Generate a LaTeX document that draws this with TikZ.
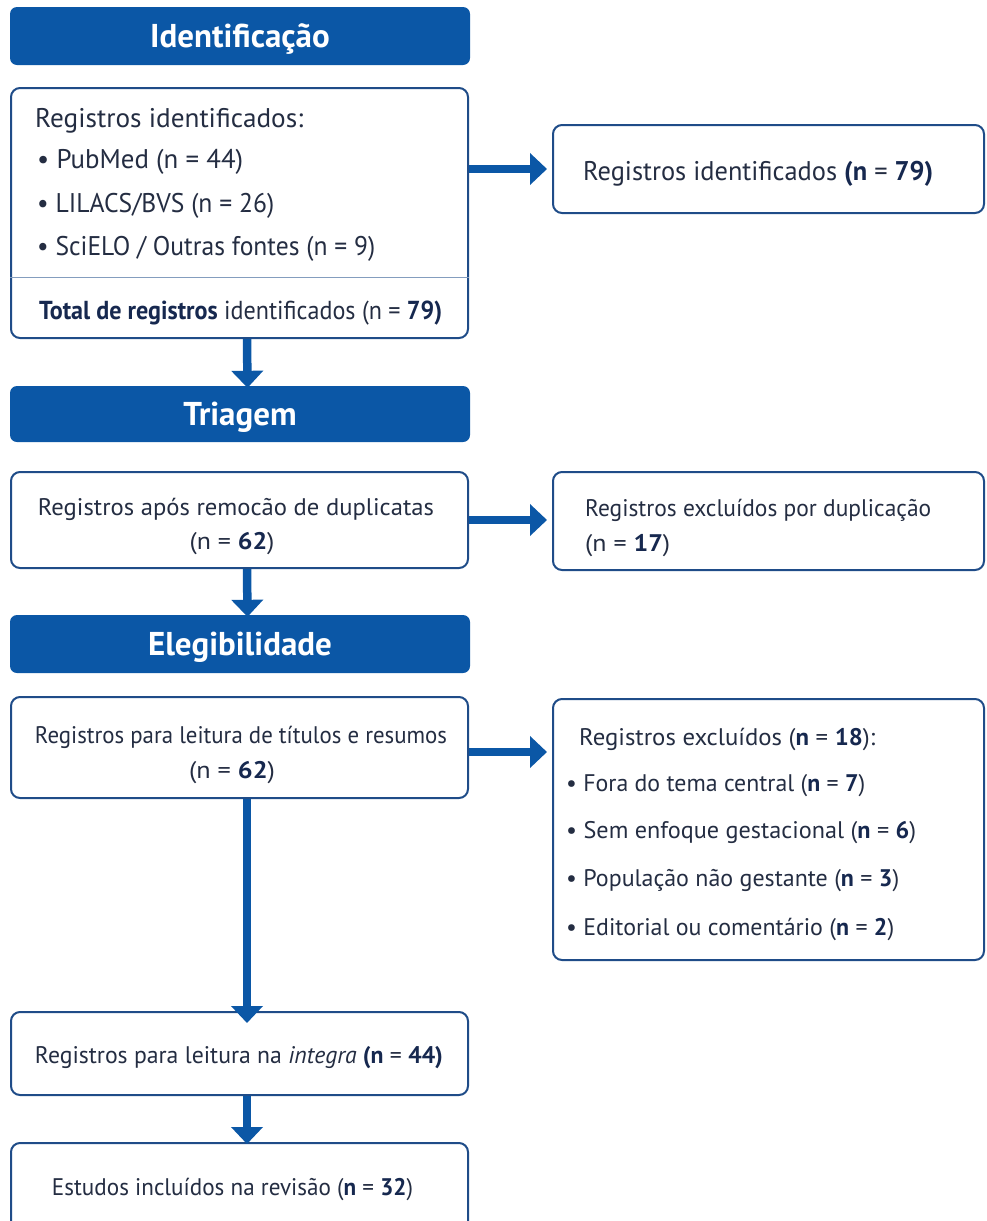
\documentclass[tikz,border=0pt]{standalone}
\usepackage{fontspec}
\setmainfont{PT Sans}
\usetikzlibrary{arrows.meta}
\definecolor{hblue}{HTML}{0B57A6}
\definecolor{bord}{HTML}{1F4C88}
\definecolor{txt}{HTML}{242D42}
\definecolor{btxt}{HTML}{16284F}
\newcommand{\fw}[2]{\resizebox{#1pt}{\height}{#2}}
\newcommand{\bn}[1]{{\bfseries\color{btxt}#1}}
\tikzset{
  hdr/.style={fill=hblue, rounded corners=7pt, minimum width=460pt, text=white,
    font=\fontsize{33}{35}\selectfont\bfseries, text height=23pt, text depth=1pt, inner sep=0pt},
  box/.style={draw=bord, line width=2pt, rounded corners=9pt, fill=white, inner sep=0pt},
  lbl/.style={inner sep=0pt, text=txt, font=\fontsize{24}{27}\selectfont},
  lblb/.style={inner sep=0pt, text=txt, font=\fontsize{27}{30}\selectfont},
  arr/.style={draw=hblue, line width=8.5pt, -{Triangle[width=31pt,length=17pt]}},
}
\begin{document}
\begin{tikzpicture}[x=1pt,y=-1pt]
\useasboundingbox (0,0) rectangle (987,1221);
\clip (0,0) rectangle (987,1221);
% headers
\node[hdr, minimum height=58pt] (h1) at (240,36) {Identificação};
\node[hdr, minimum height=56pt] (h2) at (240,414) {Triagem};
\node[hdr, minimum height=58pt] (h3) at (240,644) {Elegibilidade};
% left boxes
\node[box, minimum width=457pt, minimum height=250pt] (b1) at (239.5,213) {};
\draw[draw=bord!55, line width=1pt] (b1.west |- 0,277) -- (b1.east |- 0,277);
\node[box, minimum width=457pt, minimum height=96pt] (b2) at (239.5,520) {};
\node[box, minimum width=457pt, minimum height=101pt] (b3) at (239.5,747.5) {};
\node[box, minimum width=457pt, minimum height=83pt] (b4) at (239.5,1053.5) {};
\node[box, minimum width=457pt, minimum height=92pt] (b5) at (239.5,1189) {};
% right boxes
\node[box, minimum width=431pt, minimum height=88pt] (r1) at (768.5,169) {};
\node[box, minimum width=431pt, minimum height=98pt] (r2) at (768.5,521) {};
\node[box, minimum width=431pt, minimum height=261pt] (r3) at (768.5,829.5) {};
% box 1 text
\node[lblb, anchor=base west] (t1a) at (35,127) {\fw{268}{Registros identificados:}};
\node[lblb, anchor=base west] (t1b) at (37,168) {\fw{206}{• PubMed (n = 44)}};
\node[lblb, anchor=base west] (t1c) at (37,212) {\fw{237}{• LILACS/BVS (n = 26)}};
\node[lblb, anchor=base west] (t1d) at (37,255) {\fw{338}{• SciELO / Outras fontes (n = 9)}};
\node[lbl, anchor=base west] (t1e) at (39,319) {\fw{403}{\fontsize{26}{28}\selectfont\bn{Total de registros} identificados (n = \bn{79)}}};
% right box 1 text
\node[lblb, anchor=base west] (s1) at (583,180) {\fw{350}{Registros identificados \bn{(n} = \bn{79)}}};
% box 2 text
\node[lbl, anchor=base] (t2a) at (236,515) {\fw{396}{Registros após remocão de duplicatas}};
\node[lbl, anchor=base] (t2b) at (232,549) {\fw{85}{(n = \bn{62})}};
% right box 2 text
\node[lbl, anchor=base west] (s2a) at (585,516) {\fw{346}{Registros excluídos por duplicação}};
\node[lbl, anchor=base west] (s2b) at (585,551) {\fw{85}{(n = \bn{17})}};
% box 3 text
\node[lbl, anchor=base] (t3a) at (241,743) {\fw{412}{Registros para leitura de títulos e resumos}};
\node[lbl, anchor=base] (t3b) at (232,778) {\fw{86}{(n = \bn{62})}};
% right box 3 text
\node[lbl, anchor=base west] (s3a) at (579,745) {\fw{296}{Registros excluídos (\bn{n} = \bn{18}):}};
\node[lbl, anchor=base west] (s3b) at (566,791) {\fw{299}{• Fora do tema central (\bn{n} = \bn{7})}};
\node[lbl, anchor=base west] (s3c) at (566,838) {\fw{350}{• Sem enfoque gestacional (\bn{n} = \bn{6})}};
\node[lbl, anchor=base west] (s3d) at (566,886) {\fw{333}{• População não gestante (\bn{n} = \bn{3})}};
\node[lbl, anchor=base west] (s3e) at (566,935) {\fw{328}{• Editorial ou comentário (\bn{n} = \bn{2})}};
% box 4 and 5 text
\node[lbl, anchor=base] (t4) at (239,1063) {\fw{408}{Registros para leitura na \textit{integra} \bn{(n} = \bn{44)}}};
\node[lbl, anchor=base] (t5) at (232.5,1195) {\fw{361}{Estudos incluídos na revisão (\bn{n} = \bn{32})}};
% horizontal arrows
\draw[arr] (r1.west -| b1.east) -- ([xshift=-5pt]r1.west);
\draw[arr] (b2.east) -- ([xshift=-5pt]b2.east -| r2.west);
\draw[arr] ([yshift=-4.5pt]b3.east) -- ([xshift=-5pt,yshift=-4.5pt]b3.east -| r3.west);
% vertical arrows
\draw[arr] ([xshift=7.5pt]b1.south) -- ([xshift=7.5pt,yshift=-2pt]h2.north);
\draw[arr] ([xshift=7.5pt]b2.south) -- ([xshift=7.5pt,yshift=-2pt]h3.north);
\draw[arr] ([xshift=7.5pt]b3.south) -- ([xshift=7.5pt,yshift=-12pt]b4.north);
\draw[arr] ([xshift=7.5pt]b4.south) -- ([xshift=7.5pt,yshift=-2pt]b5.north);
\end{tikzpicture}
\end{document}
